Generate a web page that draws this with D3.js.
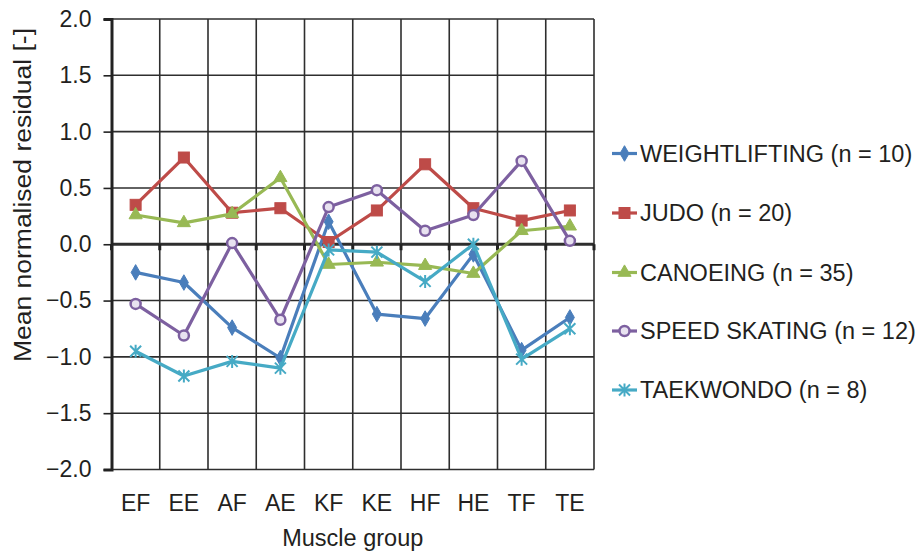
<!DOCTYPE html>
<html><head><meta charset="utf-8">
<script src="https://cdn.jsdelivr.net/npm/d3@7"></script>
<style>
html,body{margin:0;padding:0;background:#fff;}
svg{display:block;font-family:"Liberation Sans",Arial,sans-serif;}
</style></head>
<body>
<svg id="chart" width="923" height="555"></svg>
<script>
const categories = ["EF","EE","AF","AE","KF","KE","HF","HE","TF","TE"];
const yTicks = [-2.0,-1.5,-1.0,-0.5,0.0,0.5,1.0,1.5,2.0];
const seriesNames = ["WEIGHTLIFTING (n = 10)","JUDO (n = 20)","CANOEING (n = 35)","SPEED SKATING (n = 12)","TAEKWONDO (n = 8)"];
const weightlifting = [-0.25,-0.34,-0.74,-1.01,0.20,-0.62,-0.66,-0.09,-0.94,-0.65];
const judo          = [0.35,0.77,0.28,0.32,0.02,0.30,0.71,0.32,0.21,0.30];
const canoeing      = [0.26,0.19,0.27,0.59,-0.18,-0.16,-0.19,-0.26,0.12,0.16];
const speedSkating  = [-0.53,-0.81,0.01,-0.67,0.33,0.48,0.12,0.26,0.74,0.03];
const taekwondo     = [-0.95,-1.17,-1.04,-1.10,-0.05,-0.07,-0.33,0.00,-1.02,-0.75];
const colors = ["#4a7ebb","#be4b48","#98b954","#7d60a0","#46aac5"];
const markers = ["diamond","square","triangle","circle","star"];

const series = [weightlifting, judo, canoeing, speedSkating, taekwondo].map((v,i)=>({
  name: seriesNames[i], values: v, color: colors[i], marker: markers[i]
}));

const svg = d3.select("#chart");
const L = 111.5, R = 594, T = 19, B = 469.5;
const x = d3.scaleBand().domain(categories).range([L,R]);
const cx = c => x(c) + x.bandwidth()/2;
const y = d3.scaleLinear().domain([-2,2]).range([B,T]);
const textColor = "#231f20";
const gridColor = "#2e2e2e";

// horizontal gridlines
svg.append("g").selectAll("line").data(yTicks).join("line")
  .attr("x1",L).attr("x2",R).attr("y1",d=>y(d)).attr("y2",d=>y(d))
  .attr("stroke",gridColor).attr("stroke-width",d=>d===0?3:1.6);
// vertical gridlines (category boundaries)
const bounds = categories.map(c=>x(c)).concat([R]);
svg.append("g").selectAll("line").data(bounds.slice(1)).join("line")
  .attr("x1",d=>d).attr("x2",d=>d).attr("y1",T).attr("y2",B)
  .attr("stroke",gridColor).attr("stroke-width",1.6);
// x tick marks on zero line
svg.append("g").selectAll("line").data(bounds).join("line")
  .attr("x1",d=>d).attr("x2",d=>d).attr("y1",y(0)).attr("y2",y(0)+6)
  .attr("stroke","#222").attr("stroke-width",3);
// left axis
const yAxis = d3.axisLeft(y).tickValues(yTicks).tickSize(8).tickPadding(12)
  .tickFormat(d=>d3.format(".1f")(d).replace("-","\u2013"));
const ga = svg.append("g").attr("transform",`translate(${L},0)`).call(yAxis);
ga.select(".domain").attr("stroke","#222").attr("stroke-width",3);
ga.selectAll(".tick line").attr("stroke","#222").attr("stroke-width",1.6);
ga.selectAll(".tick text").attr("font-size",23).attr("fill",textColor)
  .attr("font-family","Liberation Sans, Arial, sans-serif");

// category labels
svg.append("g").selectAll("text").data(categories).join("text")
  .attr("x",d=>cx(d)).attr("y",511).attr("text-anchor","middle")
  .attr("font-size",23).attr("fill",textColor).text(d=>d);
svg.append("text").attr("x",(L+R)/2).attr("y",546).attr("text-anchor","middle")
  .attr("font-size",23.5).attr("fill",textColor).text("Muscle group");
svg.append("text").attr("transform","translate(31,195) rotate(-90)")
  .attr("text-anchor","middle").attr("font-size",23.5).attr("fill",textColor)
  .attr("textLength",334).attr("lengthAdjust","spacingAndGlyphs")
  .text("Mean normalised residual [-]");

function drawMarker(g, type, color, px, py){
  if(type==="diamond"){
    g.append("path").attr("d",d3.symbol(d3.symbolDiamond,70)()).attr("transform",`translate(${px},${py})`)
      .attr("fill",color).attr("stroke",color).attr("stroke-width",1);
  } else if(type==="square"){
    g.append("rect").attr("x",px-5.5).attr("y",py-5.5).attr("width",11).attr("height",11)
      .attr("fill",color).attr("stroke",color).attr("stroke-width",1);
  } else if(type==="triangle"){
    g.append("path").attr("d",d3.symbol(d3.symbolTriangle,75)()).attr("transform",`translate(${px},${py})`)
      .attr("fill",color).attr("stroke",color).attr("stroke-width",1);
  } else if(type==="circle"){
    g.append("circle").attr("cx",px).attr("cy",py).attr("r",5)
      .attr("fill","#e8e2f0").attr("stroke",color).attr("stroke-width",2.5);
  } else if(type==="star"){
    const s=5.5;
    g.append("path").attr("d",`M${-s},${-s}L${s},${s}M${-s},${s}L${s},${-s}M0,${-s-1}L0,${s+1}`)
      .attr("transform",`translate(${px},${py})`).attr("stroke",color).attr("stroke-width",2).attr("fill","none");
  }
}

const line = d3.line().x((d,i)=>cx(categories[i])).y(d=>y(d));
series.forEach(s=>{
  const g = svg.append("g");
  g.append("path").datum(s.values).attr("d",line).attr("fill","none")
    .attr("stroke",s.color).attr("stroke-width",3.2).attr("stroke-linejoin","round");
  s.values.forEach((v,i)=>drawMarker(g,s.marker,s.color,cx(categories[i]),y(v)));
});

// legend
const legY = [153.5,213,272.5,331,390];
series.forEach((s,i)=>{
  const g = svg.append("g");
  g.append("line").attr("x1",612).attr("x2",637).attr("y1",legY[i]).attr("y2",legY[i])
    .attr("stroke",s.color).attr("stroke-width",3.2);
  drawMarker(g,s.marker,s.color,624.5,legY[i]);
  g.append("text").attr("x",640).attr("y",legY[i]).attr("dy","0.36em")
    .attr("font-size",23.5).attr("fill",textColor).text(s.name);
});
</script>
</body></html>
